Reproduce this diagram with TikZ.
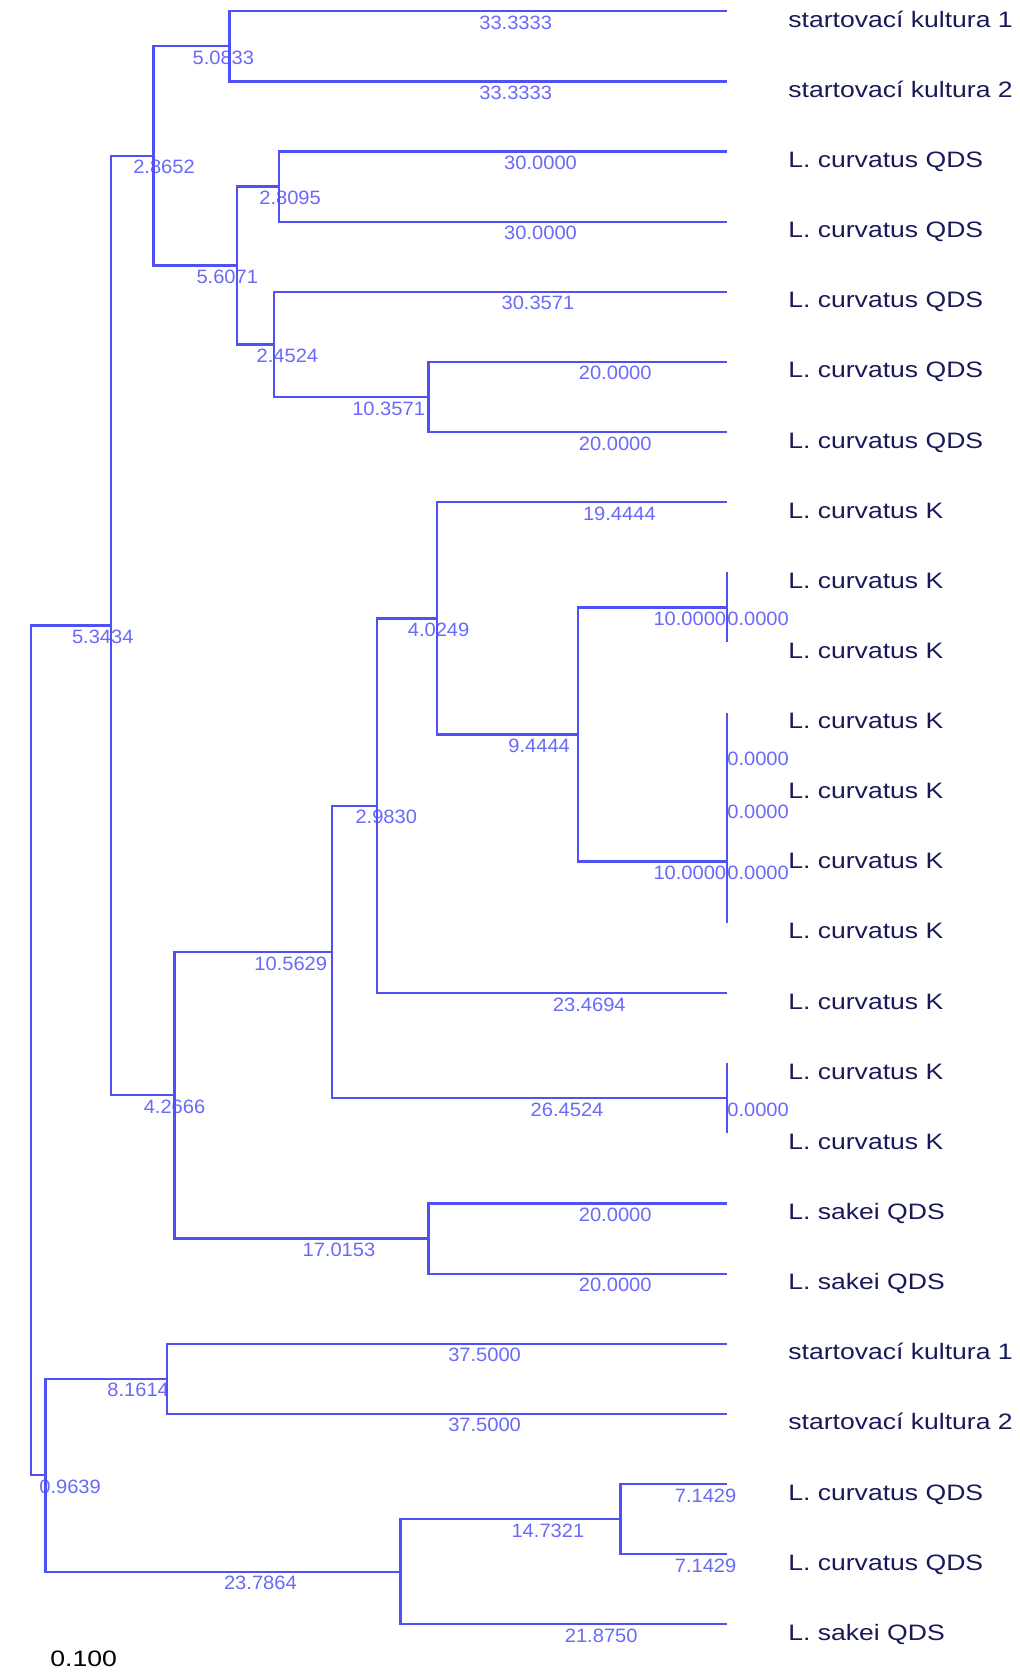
\documentclass[tikz,border=0pt]{standalone}
\usepackage{fontspec}
\setmainfont{Liberation Sans}
\newfontfamily\taxonfont[FakeStretch=1.19]{Liberation Sans}
\newfontfamily\lenfont[FakeStretch=1.04]{Liberation Sans}
\definecolor{treeblue}{RGB}{80,80,248}
\definecolor{lenblue}{RGB}{105,105,250}
\definecolor{taxonnavy}{RGB}{25,25,88}
\tikzstyle{branch}=[draw=treeblue, line width=1.3pt]
\tikzstyle{branch label}=[anchor=base west, inner sep=0pt, yshift=-0.36cm, text=lenblue, font=\lenfont\fontsize{11}{13}\selectfont]
\tikzstyle{taxon}=[anchor=base west, inner sep=0pt, text=taxonnavy, font=\taxonfont\fontsize{12.7}{15}\selectfont]
\newcommand{\tipx}{46.6253}

\begin{document}
\begin{tikzpicture}[x=0.29856cm, y=-1.4026cm]
      \useasboundingbox (-2.0766,-0.1611) rectangle (66.251,23.723);
      % leaves and their names
      \foreach \name [count=\r from 0] in {startovací kultura 1, startovací kultura 2,
          L. curvatus QDS, L. curvatus QDS, L. curvatus QDS, L. curvatus QDS, L. curvatus QDS,
          L. curvatus K, L. curvatus K, L. curvatus K, L. curvatus K, L. curvatus K,
          L. curvatus K, L. curvatus K, L. curvatus K, L. curvatus K, L. curvatus K,
          L. sakei QDS, L. sakei QDS, startovací kultura 1, startovací kultura 2,
          L. curvatus QDS, L. curvatus QDS, L. sakei QDS} {
        \coordinate (t\r) at (\tipx,\r);
        \node[taxon] (taxon\r) at (50.71,\r+0.228) {\name};
      }
      % inner nodes: (depth, row)
      \coordinate (root) at (0,14.8174);
      \coordinate (up) at (5.3434,8.7598);
      \coordinate (up1) at (8.2086,2.0625);
      \coordinate (start) at (13.2919,0.5);
      \coordinate (qds) at (13.8157,3.625);
      \coordinate (qds1) at (16.6252,2.5);
      \coordinate (qds2) at (16.2681,4.75);
      \coordinate (qds3) at (26.6252,5.5);
      \coordinate (up2) at (9.61,15.457);
      \coordinate (kk) at (20.1729,13.4141);
      \coordinate (kk1) at (23.1559,11.3281);
      \coordinate (kk2) at (27.1808,8.6563);
      \coordinate (kk3) at (36.6252,10.3125);
      \coordinate (kk4) at (\tipx,8.5);
      \coordinate (kk5) at (\tipx,12.125);
      \coordinate (kk5a) at (\tipx,11.25);
      \coordinate (kk5b) at (\tipx,10.5);
      \coordinate (kk6) at (\tipx,15.5);
      \coordinate (sakei) at (26.6253,17.5);
      \coordinate (low) at (0.9639,20.875);
      \coordinate (low1) at (9.1253,19.5);
      \coordinate (low2) at (24.7503,22.25);
      \coordinate (low3) at (39.4824,21.5);
      % branches
      \draw[branch] (root) |- (up) node[branch label, pos=0.75] {5.3434}
        (root) |- (low) node[branch label, pos=0.75] {0.9639};
      \draw[branch] (up) |- (up1) node[branch label, pos=0.75] {2.8652}
        (up) |- (up2) node[branch label, pos=0.75] {4.2666};
      \draw[branch] (up1) |- (start) node[branch label, pos=0.75] {5.0833}
        (up1) |- (qds) node[branch label, pos=0.75] {5.6071};
      \draw[branch] (start) |- (t0) node[branch label, pos=0.75] {33.3333}
        (start) |- (t1) node[branch label, pos=0.75] {33.3333};
      \draw[branch] (qds) |- (qds1) node[branch label, pos=0.75] {2.8095}
        (qds) |- (qds2) node[branch label, pos=0.75] {2.4524};
      \draw[branch] (qds1) |- (t2) node[branch label, pos=0.75] {30.0000}
        (qds1) |- (t3) node[branch label, pos=0.75] {30.0000};
      \draw[branch] (qds2) |- (t4) node[branch label, pos=0.75] {30.3571}
        (qds2) |- (qds3) node[branch label, pos=0.75] {10.3571};
      \draw[branch] (qds3) |- (t5) node[branch label, pos=0.75] {20.0000}
        (qds3) |- (t6) node[branch label, pos=0.75] {20.0000};
      \draw[branch] (up2) |- (kk) node[branch label, pos=0.75] {10.5629}
        (up2) |- (sakei) node[branch label, pos=0.75] {17.0153};
      \draw[branch] (kk) |- (kk1) node[branch label, pos=0.75] {2.9830}
        (kk) |- (kk6) node[branch label, pos=0.75] {26.4524};
      \draw[branch] (kk1) |- (kk2) node[branch label, pos=0.75] {4.0249}
        (kk1) |- (t14) node[branch label, pos=0.75] {23.4694};
      \draw[branch] (kk2) |- (t7) node[branch label, pos=0.75] {19.4444}
        (kk2) |- (kk3) node[branch label, pos=0.75] {9.4444};
      \draw[branch] (kk3) |- (kk4) node[branch label, pos=0.75] {10.0000}
        (kk3) |- (kk5) node[branch label, pos=0.75] {10.0000};
      \draw[branch] (kk4) -- (t8) (kk4) -- (t9);
      \draw[branch] (kk5) -- (kk5a) (kk5) -- (t13) (kk5a) -- (kk5b)
        (kk5a) -- (t12) (kk5b) -- (t10) (kk5b) -- (t11);
      \draw[branch] (kk6) -- (t15) (kk6) -- (t16);
      \draw[branch] (sakei) |- (t17) node[branch label, pos=0.75] {20.0000}
        (sakei) |- (t18) node[branch label, pos=0.75] {20.0000};
      \draw[branch] (low) |- (low1) node[branch label, pos=0.75] {8.1614}
        (low) |- (low2) node[branch label, pos=0.75] {23.7864};
      \draw[branch] (low1) |- (t19) node[branch label, pos=0.75] {37.5000}
        (low1) |- (t20) node[branch label, pos=0.75] {37.5000};
      \draw[branch] (low2) |- (low3) node[branch label, pos=0.75] {14.7321}
        (low2) |- (t23) node[branch label, pos=0.75] {21.8750};
      \draw[branch] (low3) |- (t21) node[branch label, pos=0.75] {7.1429}
        (low3) |- (t22) node[branch label, pos=0.75] {7.1429};
      % zero lengths
      \node[branch label] (zero4) at (kk4) {0.0000};
      \node[branch label] (zero5b) at (kk5b) {0.0000};
      \node[branch label] (zero5a) at (kk5a) {0.0000};
      \node[branch label] (zero5) at (kk5) {0.0000};
      \node[branch label] (zero6) at (kk6) {0.0000};
      \node[taxon, text=black] (scale) at (1.273,23.605) {0.100};
    \end{tikzpicture}
\end{document}
